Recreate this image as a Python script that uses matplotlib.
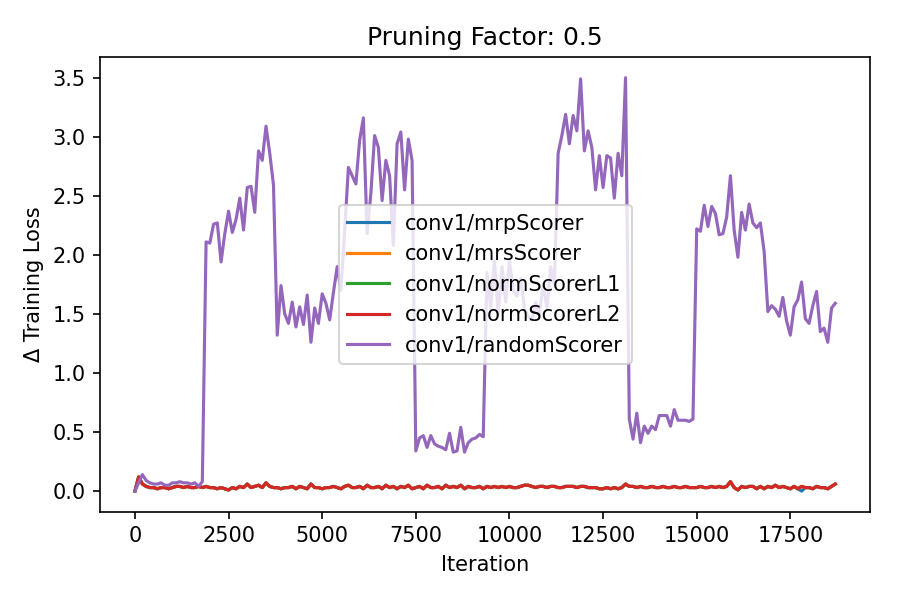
import numpy as np
import matplotlib
matplotlib.use("Agg")
import matplotlib.pyplot as plt

# iterations, one sample every 100 steps
iterations = np.arange(0, 18800, 100)

random_scorer = [
    0.00, 0.07, 0.14, 0.09, 0.07, 0.06, 0.06, 0.07, 0.05, 0.05,
    0.07, 0.07, 0.08, 0.07, 0.07, 0.06, 0.07, 0.04, 0.08, 2.11,
    2.10, 2.26, 2.27, 1.94, 2.18, 2.37, 2.19, 2.30, 2.48, 2.21,
    2.57, 2.58, 2.36, 2.88, 2.80, 3.09, 2.86, 2.59, 1.32, 1.74,
    1.50, 1.42, 1.60, 1.39, 1.56, 1.41, 1.66, 1.26, 1.55, 1.42,
    1.67, 1.59, 1.45, 1.68, 1.90, 1.70, 2.20, 2.74, 2.67, 2.60,
    2.97, 3.16, 2.18, 2.52, 3.01, 2.91, 2.46, 2.80, 2.67, 2.08,
    2.94, 3.04, 2.55, 2.98, 2.80, 0.34, 0.45, 0.47, 0.37, 0.47,
    0.40, 0.38, 0.37, 0.35, 0.49, 0.33, 0.34, 0.54, 0.33, 0.41,
    0.44, 0.45, 0.48, 0.46, 1.85, 1.55, 1.95, 1.50, 1.90, 1.60,
    1.95, 1.70, 1.65, 1.80, 1.55, 1.48, 1.45, 1.60, 1.50, 1.75,
    1.55, 1.90, 1.75, 2.86, 3.01, 3.19, 2.94, 3.18, 3.05, 3.49,
    2.88, 3.05, 2.91, 2.55, 2.84, 2.57, 2.84, 2.82, 2.48, 2.86,
    2.67, 3.50, 0.61, 0.44, 0.66, 0.41, 0.55, 0.49, 0.55, 0.52,
    0.64, 0.64, 0.64, 0.55, 0.69, 0.60, 0.60, 0.60, 0.59, 0.61,
    2.22, 2.20, 2.42, 2.24, 2.41, 2.35, 2.17, 2.18, 2.32, 2.67,
    2.21, 1.98, 2.36, 2.21, 2.43, 2.27, 2.23, 2.27, 2.03, 1.52,
    1.57, 1.54, 1.48, 1.64, 1.44, 1.32, 1.56, 1.62, 1.77, 1.46,
    1.42, 1.57, 1.69, 1.35, 1.38, 1.26, 1.55, 1.59,
]

norm_l2 = [
    0.00, 0.12, 0.06, 0.04, 0.03, 0.03, 0.02, 0.03, 0.03, 0.02,
    0.03, 0.04, 0.04, 0.03, 0.04, 0.03, 0.03, 0.04, 0.03, 0.04,
    0.03, 0.03, 0.02, 0.03, 0.02, 0.01, 0.03, 0.02, 0.04, 0.03,
    0.06, 0.03, 0.04, 0.05, 0.03, 0.07, 0.04, 0.03, 0.03, 0.02,
    0.03, 0.03, 0.04, 0.02, 0.04, 0.03, 0.02, 0.06, 0.03, 0.03,
    0.02, 0.03, 0.03, 0.04, 0.03, 0.02, 0.04, 0.05, 0.03, 0.03,
    0.04, 0.02, 0.05, 0.03, 0.03, 0.04, 0.02, 0.05, 0.03, 0.04,
    0.02, 0.04, 0.03, 0.05, 0.02, 0.03, 0.04, 0.02, 0.05, 0.03,
    0.03, 0.04, 0.02, 0.05, 0.03, 0.04, 0.03, 0.05, 0.02, 0.04,
    0.03, 0.03, 0.04, 0.02, 0.04, 0.03, 0.04, 0.03, 0.04, 0.03,
    0.04, 0.03, 0.03, 0.04, 0.05, 0.05, 0.04, 0.03, 0.04, 0.04,
    0.03, 0.04, 0.04, 0.03, 0.03, 0.04, 0.04, 0.04, 0.03, 0.04,
    0.04, 0.03, 0.03, 0.03, 0.02, 0.02, 0.03, 0.02, 0.03, 0.02,
    0.03, 0.06, 0.04, 0.04, 0.03, 0.04, 0.03, 0.03, 0.04, 0.03,
    0.03, 0.04, 0.03, 0.03, 0.04, 0.03, 0.03, 0.04, 0.03, 0.03,
    0.03, 0.04, 0.03, 0.03, 0.04, 0.03, 0.04, 0.03, 0.04, 0.08,
    0.03, 0.01, 0.04, 0.03, 0.04, 0.04, 0.02, 0.04, 0.02, 0.04,
    0.03, 0.05, 0.03, 0.04, 0.03, 0.02, 0.04, 0.02, 0.04, 0.03,
    0.03, 0.02, 0.04, 0.03, 0.03, 0.02, 0.04, 0.06,
]

# the other scorers sit right under the L2 line
norm_l1 = list(norm_l2)
mrs_scorer = list(norm_l2)
mrp_scorer = list(norm_l2)
mrp_scorer[178] = 0.00  # small blue dip near 17800

labels = ["conv1/mrpScorer", "conv1/mrsScorer", "conv1/normScorerL1",
          "conv1/normScorerL2", "conv1/randomScorer"]
series = [mrp_scorer, mrs_scorer, norm_l1, norm_l2, random_scorer]

fig = plt.figure(figsize=(6, 4), dpi=150)
ax = fig.add_subplot(111)

for lab, vals in zip(labels, series):
    ax.plot(iterations, vals, label=lab)

ax.set_title("Pruning Factor: 0.5")
ax.set_xlabel("Iteration")
ax.set_ylabel("Δ Training Loss")
ax.legend(loc="center")

fig.subplots_adjust(left=0.111, right=0.967, top=0.905, bottom=0.147)
fig.savefig("out.png", dpi=150)
